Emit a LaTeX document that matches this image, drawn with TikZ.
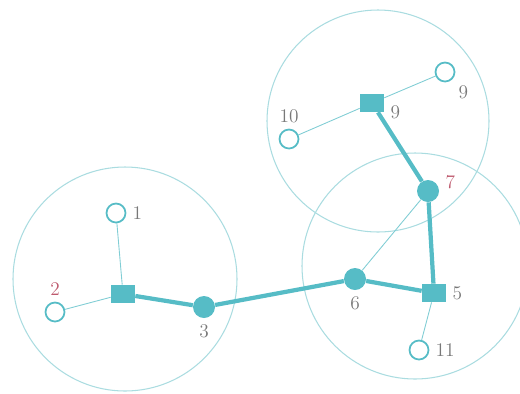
\documentclass[tikz,border=0pt]{standalone}
\usepackage{tikz}
\usetikzlibrary{positioning}
\usepackage{xcolor}
\definecolor{teal1}{RGB}{86,188,198}
\definecolor{ring}{RGB}{170,220,224}
\definecolor{numgray}{RGB}{120,120,120}
\definecolor{numred}{RGB}{190,90,110}

\begin{document}
\begin{tikzpicture}[x=0.02cm, y=-0.02cm,
    open/.style={circle, draw=teal1, line width=1pt, fill=white, minimum size=0.38cm, inner sep=0pt},
    full/.style={circle, fill=teal1, minimum size=0.44cm, inner sep=0pt},
    hub/.style={rectangle, fill=teal1, minimum width=0.48cm, minimum height=0.36cm, inner sep=0pt},
    num/.style={text=numgray, font=\fontsize{11}{13}\selectfont},
    thin/.style={draw=teal1!75, line width=0.5pt},
    heavy/.style={draw=teal1, line width=2.4pt}]
    \useasboundingbox (0,0) rectangle (520,393);
    % clusters
    \draw[ring, line width=0.6pt] (125,279) circle (112);
    \draw[ring, line width=0.6pt] (378,121) circle (111);
    \draw[ring, line width=0.6pt] (415,266) circle (113);

    % stations
    \node[open, label={[num]right:1}] (n1) at (116,213) {};
    \node[open, label={[num, text=numred]above:2}] (n2) at (55,312) {};
    \node[hub] (ha) at (123,294) {};
    \node[full, label={[num]below:3}] (n3) at (204,307) {};
    \node[full, label={[num]below:6}] (n6) at (355,279) {};
    \node[hub, label={[num]right:5}] (n5) at (434,293) {};
    \node[full, label={[num, text=numred, yshift=5pt]right:7}] (n7) at (428,191) {};
    \node[hub, label={[num, yshift=-5pt]right:9}] (hb) at (372,103) {};
    \node[open, label={[num]below right:9}] (n9) at (445,72) {};
    \node[open, label={[num]above:10}] (n10) at (289,139) {};
    \node[open, label={[num]right:11}] (n11) at (419,350) {};

    % links
    \draw[thin] (n1) -- (ha);
    \draw[thin] (n2) -- (ha);
    \draw[thin] (n6) -- (n7);
    \draw[thin] (n5) -- (n11);
    \draw[thin] (n10) -- (hb);
    \draw[thin] (hb) -- (n9);
    \draw[heavy] (ha) -- (n3);
    \draw[heavy] (n3) -- (n6);
    \draw[heavy] (n6) -- (n5);
    \draw[heavy] (n5) -- (n7);
    \draw[heavy] (n7) -- (hb);
\end{tikzpicture}
\end{document}
